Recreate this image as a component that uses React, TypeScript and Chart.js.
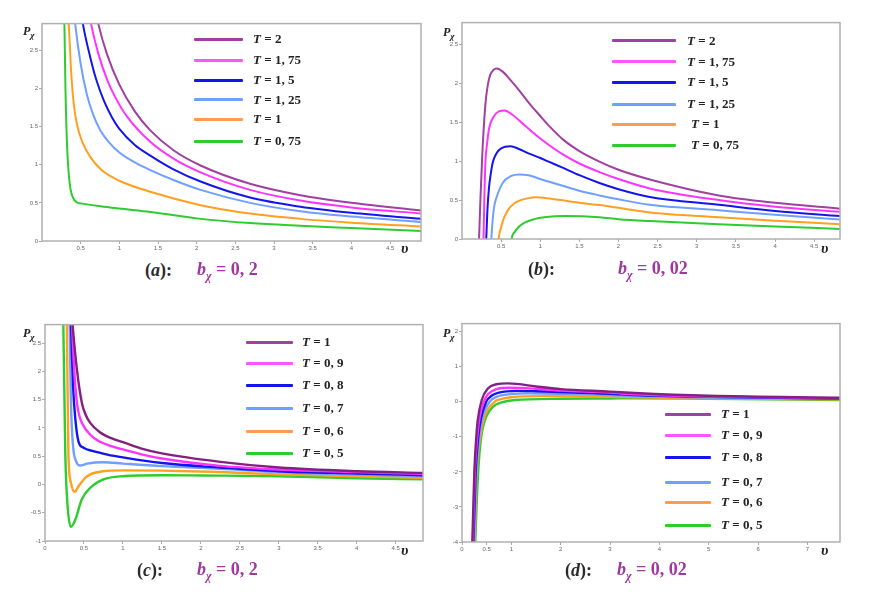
import React, { useEffect, useRef } from "react";
import { Chart, registerables } from "chart.js";
Chart.register(...registerables);

// ---------- Panel (a): b = 0,2 ----------
const aV_T2 = [0.69, 0.73, 0.84, 1.0, 1.2, 1.4, 1.7, 2.05, 2.69, 3.34, 4.0, 4.9];
const aP_T2 = [3.05, 2.84, 2.45, 2.05, 1.7, 1.45, 1.19, 0.99, 0.75, 0.6, 0.5, 0.4];
const aV_T175 = [0.605, 0.635, 0.73, 0.84, 0.95, 1.1, 1.4, 1.7, 2.05, 2.69, 3.34, 4.0, 4.9];
const aP_T175 = [3.0, 2.84, 2.45, 2.12, 1.88, 1.63, 1.3, 1.08, 0.9, 0.67, 0.53, 0.44, 0.36];
const aV_T15 = [0.5, 0.53, 0.626, 0.7, 0.8, 0.9, 1.0, 1.2, 1.4, 1.7, 2.05, 2.69, 3.34, 4.0, 4.9];
const aP_T15 = [3.05, 2.84, 2.4, 2.12, 1.84, 1.63, 1.47, 1.26, 1.12, 0.94, 0.78, 0.57, 0.45, 0.37, 0.29];
const aV_T125 = [0.41, 0.43, 0.5, 0.58, 0.66, 0.755, 0.87, 1.0, 1.2, 1.4, 1.7, 2.05, 2.69, 3.34, 4.0, 4.9];
const aP_T125 = [3.05, 2.84, 2.32, 1.92, 1.66, 1.45, 1.29, 1.16, 1.03, 0.93, 0.8, 0.67, 0.5, 0.39, 0.32, 0.25];
const aV_T1 = [0.335, 0.346, 0.376, 0.41, 0.454, 0.52, 0.626, 0.77, 1.0, 1.4, 2.05, 2.69, 3.34, 4.0, 4.9];
const aP_T1 = [3.1, 2.84, 2.23, 1.8, 1.52, 1.3, 1.1, 0.93, 0.79, 0.645, 0.47, 0.36, 0.29, 0.24, 0.19];
const aV_T075 = [0.285, 0.29, 0.303, 0.325, 0.359, 0.398, 0.454, 0.52, 0.755, 1.0, 1.4, 2.05, 2.69, 3.34, 4.0, 4.9];
const aP_T075 = [3.1, 2.84, 2.01, 1.23, 0.75, 0.575, 0.505, 0.49, 0.455, 0.425, 0.38, 0.29, 0.235, 0.2, 0.17, 0.13];

// ---------- Panel (b): b = 0,02 ----------
const bV_T2 = [0.205, 0.218, 0.235, 0.26, 0.3, 0.346, 0.4, 0.445, 0.52, 0.62, 0.73, 0.87, 1.0, 1.115, 1.3, 1.5, 1.756, 2.0, 2.4, 3.28, 4.0, 4.83];
const bP_T2 = [-0.35, 0, 0.5, 1.1, 1.74, 2.06, 2.17, 2.19, 2.15, 2.04, 1.91, 1.73, 1.58, 1.45, 1.27, 1.13, 0.995, 0.89, 0.765, 0.56, 0.465, 0.39];
const bV_T175 = [0.262, 0.275, 0.285, 0.3, 0.32, 0.346, 0.41, 0.47, 0.54, 0.64, 0.8, 1.0, 1.115, 1.3, 1.5, 1.756, 2.0, 2.4, 3.28, 4.0, 4.83];
const bP_T175 = [-0.35, 0, 0.5, 1.0, 1.22, 1.42, 1.58, 1.64, 1.65, 1.6, 1.46, 1.29, 1.205, 1.08, 0.97, 0.86, 0.77, 0.65, 0.5, 0.415, 0.35];
const bV_T15 = [0.298, 0.31, 0.325, 0.346, 0.365, 0.39, 0.42, 0.47, 0.55, 0.62, 0.72, 0.85, 1.0, 1.115, 1.3, 1.5, 1.756, 2.0, 2.4, 3.28, 4.0, 4.83];
const bP_T15 = [-0.35, 0, 0.38, 0.67, 0.82, 0.97, 1.06, 1.14, 1.185, 1.19, 1.16, 1.1, 1.04, 0.99, 0.91, 0.82, 0.72, 0.64, 0.54, 0.44, 0.36, 0.295];
const bV_T125 = [0.362, 0.375, 0.39, 0.41, 0.44, 0.52, 0.63, 0.73, 0.85, 1.0, 1.115, 1.3, 1.5, 1.756, 2.0, 2.4, 3.28, 4.0, 4.83];
const bP_T125 = [-0.3, 0, 0.22, 0.41, 0.53, 0.72, 0.81, 0.83, 0.82, 0.77, 0.735, 0.68, 0.62, 0.56, 0.51, 0.44, 0.37, 0.31, 0.25];
const bV_T1 = [0.455, 0.47, 0.5, 0.54, 0.6, 0.67, 0.75, 0.85, 0.945, 1.115, 1.5, 1.756, 2.0, 2.4, 3.28, 4.0, 4.83];
const bP_T1 = [-0.3, 0, 0.15, 0.28, 0.39, 0.46, 0.5, 0.525, 0.535, 0.52, 0.465, 0.436, 0.4, 0.34, 0.28, 0.235, 0.19];
const bV_T075 = [0.615, 0.635, 0.67, 0.72, 0.8, 0.92, 1.05, 1.33, 1.756, 2.0, 2.4, 3.28, 4.0, 4.83];
const bP_T075 = [-0.3, 0, 0.085, 0.15, 0.21, 0.255, 0.28, 0.295, 0.28, 0.255, 0.23, 0.19, 0.16, 0.13];

// ---------- Panel (c): b = 0,2 ----------
const cV_T1 = [0.34, 0.354, 0.41, 0.474, 0.52, 0.58, 0.7, 0.85, 1.0, 1.25, 1.5, 2.25, 3.0, 4.0, 4.85];
const cP_T1 = [3.1, 2.83, 2.03, 1.44, 1.24, 1.09, 0.93, 0.82, 0.75, 0.63, 0.55, 0.4, 0.3, 0.235, 0.205];
const cV_T09 = [0.333, 0.346, 0.375, 0.41, 0.44, 0.474, 0.58, 0.7, 0.85, 1.0, 1.25, 1.5, 2.25, 3.0, 4.0, 4.85];
const cP_T09 = [3.1, 2.83, 2.03, 1.44, 1.22, 1.09, 0.88, 0.76, 0.68, 0.62, 0.53, 0.46, 0.33, 0.265, 0.22, 0.19];
const cV_T08 = [0.322, 0.333, 0.36, 0.39, 0.43, 0.495, 0.62, 0.8, 1.0, 1.5, 2.25, 3.0, 4.0, 4.85];
const cP_T08 = [3.1, 2.83, 1.74, 1.15, 0.76, 0.65, 0.59, 0.53, 0.48, 0.38, 0.3, 0.235, 0.195, 0.165];
const cV_T07 = [0.306, 0.316, 0.333, 0.36, 0.4, 0.45, 0.54, 0.75, 1.0, 1.5, 2.25, 3.0, 4.0, 4.85];
const cP_T07 = [3.1, 2.83, 1.44, 0.68, 0.41, 0.335, 0.37, 0.395, 0.37, 0.325, 0.28, 0.22, 0.177, 0.147];
const cV_T06 = [0.27, 0.28, 0.3, 0.333, 0.38, 0.43, 0.54, 0.75, 1.0, 1.5, 2.25, 3.0, 4.0, 4.85];
const cP_T06 = [3.1, 2.83, 0.56, 0.03, -0.13, -0.03, 0.147, 0.235, 0.25, 0.245, 0.22, 0.18, 0.147, 0.118];
const cV_T05 = [0.225, 0.235, 0.26, 0.29, 0.333, 0.39, 0.47, 0.58, 0.75, 1.0, 1.5, 2.0, 3.0, 4.0, 4.85];
const cP_T05 = [3.1, 2.83, 0.56, -0.38, -0.75, -0.62, -0.27, -0.06, 0.09, 0.147, 0.165, 0.16, 0.147, 0.11, 0.09];

// ---------- Panel (d): b = 0,02 ----------
const dV_T1 = [0.205, 0.21, 0.25, 0.29, 0.32, 0.4, 0.525, 0.7, 0.93, 1.54, 2.0, 3.0, 3.5, 5.0, 7.66];
const dP_T1 = [-4.3, -4.0, -2.0, -1.0, -0.52, 0.05, 0.38, 0.5, 0.525, 0.43, 0.36, 0.29, 0.25, 0.17, 0.115];
const dV_T09 = [0.215, 0.22, 0.26, 0.31, 0.35, 0.44, 0.53, 0.7, 0.95, 1.5, 2.0, 3.0, 3.5, 5.0, 7.66];
const dP_T09 = [-4.3, -4.0, -2.0, -1.0, -0.5, 0.0, 0.22, 0.36, 0.4, 0.37, 0.32, 0.26, 0.21, 0.15, 0.105];
const dV_T08 = [0.225, 0.23, 0.276, 0.33, 0.38, 0.49, 0.6, 0.75, 1.1, 1.5, 2.0, 3.0, 3.5, 5.0, 7.66];
const dP_T08 = [-4.3, -4.0, -2.0, -1.0, -0.5, 0.0, 0.17, 0.26, 0.31, 0.3, 0.28, 0.23, 0.19, 0.14, 0.095];
const dV_T07 = [0.24, 0.245, 0.29, 0.35, 0.41, 0.56, 0.7, 1.0, 1.3, 2.0, 3.0, 3.5, 5.0, 7.66];
const dP_T07 = [-4.3, -4.0, -2.0, -1.0, -0.48, 0.0, 0.14, 0.22, 0.24, 0.23, 0.19, 0.16, 0.12, 0.085];
const dV_T06 = [0.25, 0.255, 0.3, 0.37, 0.45, 0.66, 0.8, 1.0, 1.6, 2.0, 3.0, 3.5, 5.0, 7.66];
const dP_T06 = [-4.3, -4.0, -2.0, -1.0, -0.45, 0.0, 0.08, 0.13, 0.16, 0.16, 0.14, 0.13, 0.1, 0.07];
const dV_T05 = [0.265, 0.27, 0.33, 0.39, 0.49, 0.63, 0.8, 1.07, 2.0, 3.0, 3.5, 5.0, 7.66];
const dP_T05 = [-4.3, -4.0, -1.95, -1.0, -0.43, -0.14, -0.02, 0.05, 0.085, 0.095, 0.1, 0.085, 0.05];

// ---------- ticks & labels ----------
const xTicksAB = [0.5, 1, 1.5, 2, 2.5, 3, 3.5, 4, 4.5];
const xTicksC = [0, 0.5, 1, 1.5, 2, 2.5, 3, 3.5, 4, 4.5];
const xTicksD = [0, 0.5, 1, 2, 3, 4, 5, 6, 7];
const yTicksAB = [0, 0.5, 1, 1.5, 2, 2.5];
const yTicksC = [-1, -0.5, 0, 0.5, 1, 1.5, 2, 2.5];
const yTicksD = [-4, -3, -2, -1, 0, 1, 2];
const legendValsAB = ["2", "1, 75", "1, 5", "1, 25", "1", "0, 75"];
const legendValsCD = ["1", "0, 9", "0, 8", "0, 7", "0, 6", "0, 5"];
const bValueAC = "0, 2";
const bValueBD = "0, 02";

const colorsAB = ["#a040a0", "#ff33ff", "#1414ee", "#6f9fff", "#ffa020", "#2ecc2e"];
const colorsCD = ["#84207f", "#ff33ff", "#1414ee", "#6f9fff", "#ffa020", "#2ecc2e"];
const legendColorsAB = ["#a040a0", "#ff55ff", "#1414ee", "#6f9fff", "#ff9a50", "#2ecc2e"];

type Panel = {
  box: [number, number, number, number];
  xMin: number; xMax: number; yMin: number; yMax: number;
  xTicks: number[]; yTicks: number[];
  series: { v: number[]; p: number[] }[];
  colors: string[]; legendColors: string[]; lineWidth: number;
  legendVals: string[]; legendLineX: [number, number]; legendTextX: number[]; legendRows: number[];
  pLabel: [number, number]; vLabel: [number, number];
  letter: string; bValue: string; capParenX: number; capBX: number; capY: number;
};

const panels: Panel[] = [
  {
    box: [42, 23, 421, 241], xMin: 0, xMax: 4.9, yMin: 0, yMax: 2.85,
    xTicks: xTicksAB, yTicks: yTicksAB,
    series: [
      { v: aV_T2, p: aP_T2 }, { v: aV_T175, p: aP_T175 }, { v: aV_T15, p: aP_T15 },
      { v: aV_T125, p: aP_T125 }, { v: aV_T1, p: aP_T1 }, { v: aV_T075, p: aP_T075 },
    ],
    colors: colorsAB, legendColors: legendColorsAB, lineWidth: 2,
    legendVals: legendValsAB, legendLineX: [194, 243], legendTextX: [253, 253, 253, 253, 253, 253],
    legendRows: [39, 60, 80, 99.5, 119, 141],
    pLabel: [23, 31], vLabel: [406, 249],
    letter: "a", bValue: bValueAC, capParenX: 145, capBX: 197, capY: 270,
  },
  {
    box: [462, 22, 840, 239], xMin: 0, xMax: 4.83, yMin: 0, yMax: 2.78,
    xTicks: xTicksAB, yTicks: yTicksAB,
    series: [
      { v: bV_T2, p: bP_T2 }, { v: bV_T175, p: bP_T175 }, { v: bV_T15, p: bP_T15 },
      { v: bV_T125, p: bP_T125 }, { v: bV_T1, p: bP_T1 }, { v: bV_T075, p: bP_T075 },
    ],
    colors: colorsAB, legendColors: legendColorsAB, lineWidth: 2,
    legendVals: legendValsAB, legendLineX: [612, 676], legendTextX: [687, 687, 687, 687, 691, 691],
    legendRows: [40.7, 61.7, 82.3, 104, 124, 145.3],
    pLabel: [443, 32], vLabel: [826, 249],
    letter: "b", bValue: bValueBD, capParenX: 528, capBX: 618, capY: 269,
  },
  {
    box: [45, 324, 423, 541], xMin: 0, xMax: 4.85, yMin: -1, yMax: 2.83,
    xTicks: xTicksC, yTicks: yTicksC,
    series: [
      { v: cV_T1, p: cP_T1 }, { v: cV_T09, p: cP_T09 }, { v: cV_T08, p: cP_T08 },
      { v: cV_T07, p: cP_T07 }, { v: cV_T06, p: cP_T06 }, { v: cV_T05, p: cP_T05 },
    ],
    colors: colorsCD, legendColors: legendColorsAB, lineWidth: 2.4,
    legendVals: legendValsCD, legendLineX: [246, 293], legendTextX: [302, 302, 302, 302, 302, 302],
    legendRows: [342, 363, 385, 408, 431, 453],
    pLabel: [23, 333], vLabel: [406, 551],
    letter: "c", bValue: bValueAC, capParenX: 137, capBX: 197, capY: 570,
  },
  {
    box: [462, 323, 840, 542], xMin: 0, xMax: 7.66, yMin: -4, yMax: 2.23,
    xTicks: xTicksD, yTicks: yTicksD,
    series: [
      { v: dV_T1, p: dP_T1 }, { v: dV_T09, p: dP_T09 }, { v: dV_T08, p: dP_T08 },
      { v: dV_T07, p: dP_T07 }, { v: dV_T06, p: dP_T06 }, { v: dV_T05, p: dP_T05 },
    ],
    colors: colorsCD, legendColors: legendColorsAB, lineWidth: 2.4,
    legendVals: legendValsCD, legendLineX: [665, 711], legendTextX: [721, 721, 721, 721, 721, 721],
    legendRows: [414, 435, 457, 482, 502, 525],
    pLabel: [443, 333], vLabel: [826, 551],
    letter: "d", bValue: bValueBD, capParenX: 565, capBX: 617, capY: 570,
  },
];

const YW = 30, XH = 14, PT = 4, PR = 4;
const serif = '"Liberation Serif", "DejaVu Serif", serif';

const framePlugin = {
  id: "frame",
  afterDraw(chart: any) {
    const { ctx, chartArea } = chart;
    ctx.save();
    ctx.strokeStyle = "#b0b0b0";
    ctx.lineWidth = 1.5;
    ctx.strokeRect(chartArea.left, chartArea.top, chartArea.right - chartArea.left, chartArea.bottom - chartArea.top);
    ctx.restore();
  },
};

function PanelChart({ panel }: { panel: Panel }) {
  const ref = useRef<HTMLCanvasElement>(null);
  const [l, t, r, b] = panel.box;
  const W = r - l + YW + PR;
  const H = b - t + PT + XH;
  useEffect(() => {
    const tickFont = { size: 6, family: '"Liberation Sans", Arial, sans-serif' };
    const chart = new Chart(ref.current as HTMLCanvasElement, {
      type: "line",
      data: {
        datasets: panel.series.map((s, i) => ({
          label: "T" + panel.legendVals[i],
          data: s.v.map((x, j) => ({ x, y: s.p[j] })),
          borderColor: panel.colors[i],
          backgroundColor: panel.colors[i],
          borderWidth: panel.lineWidth,
          pointRadius: 0,
          cubicInterpolationMode: "monotone" as const,
          fill: false,
          clip: 0,
        })),
      },
      options: {
        responsive: false,
        animation: false,
        events: [],
        layout: { padding: { left: 0, top: PT, right: PR, bottom: 0 } },
        plugins: { legend: { display: false }, tooltip: { enabled: false } },
        scales: {
          x: {
            type: "linear",
            min: panel.xMin,
            max: panel.xMax,
            afterBuildTicks: (s: any) => { s.ticks = panel.xTicks.map((value) => ({ value })); },
            afterFit: (s: any) => { s.height = XH; },
            grid: { drawOnChartArea: false, drawTicks: true, tickLength: 3, color: "#aaa" },
            border: { display: false },
            ticks: { font: tickFont, color: "#666", padding: 1, autoSkip: false, maxRotation: 0, callback: (v: any) => String(v) },
          },
          y: {
            type: "linear",
            min: panel.yMin,
            max: panel.yMax,
            afterBuildTicks: (s: any) => { s.ticks = panel.yTicks.map((value) => ({ value })); },
            afterFit: (s: any) => { s.width = YW; },
            grid: { drawOnChartArea: false, drawTicks: true, tickLength: 3, color: "#aaa" },
            border: { display: false },
            ticks: { font: tickFont, color: "#666", padding: 1, autoSkip: false, callback: (v: any) => String(v) },
          },
        },
      },
      plugins: [framePlugin],
    } as any);
    return () => chart.destroy();
  }, [panel]);
  return (
    <canvas
      ref={ref}
      width={W}
      height={H}
      style={{ position: "absolute", left: l - YW, top: t - PT, width: W, height: H }}
    />
  );
}

function PanelText({ panel }: { panel: Panel }) {
  const abs: React.CSSProperties = { position: "absolute", whiteSpace: "nowrap" };
  return (
    <>
      {panel.legendVals.map((val, i) => (
        <React.Fragment key={i}>
          <div
            style={{
              ...abs,
              left: panel.legendLineX[0],
              top: panel.legendRows[i] - 1.5,
              width: panel.legendLineX[1] - panel.legendLineX[0],
              height: 3,
              background: panel.legendColors[i],
              borderRadius: 1,
            }}
          />
          <div
            style={{
              ...abs,
              left: panel.legendTextX[i],
              top: panel.legendRows[i] - 8,
              font: `bold 13px ${serif}`,
              lineHeight: "16px",
              color: "#222",
            }}
          >
            <i>T</i> = {val}
          </div>
        </React.Fragment>
      ))}
      <div style={{ ...abs, left: panel.pLabel[0], top: panel.pLabel[1] - 7, font: `bold italic 12px ${serif}`, lineHeight: "14px", color: "#222" }}>
        P<span style={{ fontSize: 9, position: "relative", top: 3 }}>χ</span>
      </div>
      <div style={{ ...abs, left: panel.vLabel[0] - 5, top: panel.vLabel[1] - 9, font: `bold italic 15px ${serif}`, lineHeight: "17px", color: "#222" }}>
        υ
      </div>
      <div style={{ ...abs, left: panel.capParenX, top: panel.capY - 11, font: `bold 18px ${serif}`, lineHeight: "22px", color: "#2a2a2a" }}>
        (<i>{panel.letter}</i>):
      </div>
      <div style={{ ...abs, left: panel.capBX, top: panel.capY - 12, font: `bold 18px ${serif}`, lineHeight: "22px", color: "#a0369f" }}>
        <i>b</i>
        <span style={{ fontSize: 12, fontStyle: "italic", position: "relative", top: 5 }}>χ</span> = {panel.bValue}
      </div>
    </>
  );
}

export default function App() {
  return (
    <div style={{ position: "absolute", left: 0, top: 0, width: 871, height: 599, background: "#fff", overflow: "hidden" }}>
      {panels.map((p, i) => (
        <React.Fragment key={i}>
          <PanelChart panel={p} />
          <PanelText panel={p} />
        </React.Fragment>
      ))}
    </div>
  );
}
